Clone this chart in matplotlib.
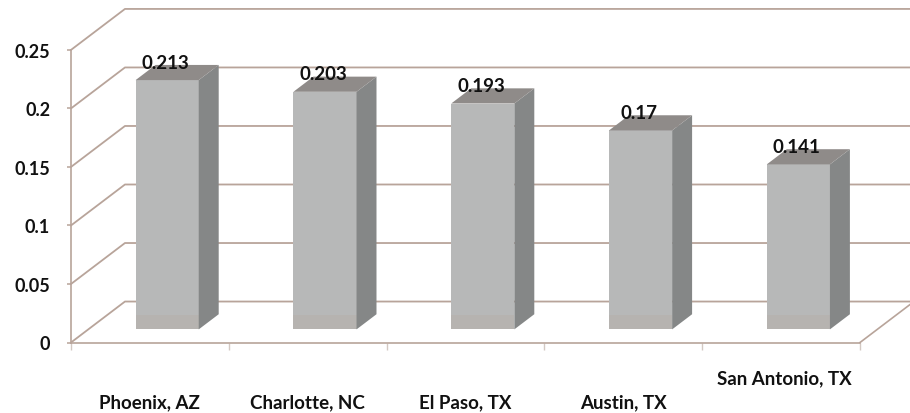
#!/usr/bin/env python
import matplotlib
matplotlib.use("Agg")
import matplotlib.pyplot as plt

plt.rcParams["font.family"] = ["Lato", "DejaVu Sans"]

cities = ["Phoenix, AZ", "Charlotte, NC", "El Paso, TX", "Austin, TX", "San Antonio, TX"]
values = [0.213, 0.203, 0.193, 0.17, 0.141]
value_labels = ["0.213", "0.203", "0.193", "0.17", "0.141"]
y_ticks = [0, 0.05, 0.1, 0.15, 0.2, 0.25]
y_tick_labels = ["0", "0.05", "0.1", "0.15", "0.2", "0.25"]

# fake 3d: depth shifts a point right and up
DX = 0.342
DY = 0.035
BAR_W = 0.4
D_FRONT = 0.32
D_BACK = 0.69
LINE = "#b8a49a"


def shift(x, y, d):
    return x + d * DX, y + d * DY


fig = plt.figure(figsize=(9.1, 4.14), dpi=100)
ax = fig.add_axes([71 / 910, 70.5 / 414, 789 / 910, 292.6 / 414])
ax.set_xlim(0, 5)
ax.set_ylim(0, 0.25)

for s in ["top", "right"]:
    ax.spines[s].set_visible(False)
for s in ["left", "bottom"]:
    ax.spines[s].set_color(LINE)
    ax.spines[s].set_linewidth(1.2)

ax.set_yticks(y_ticks)
ax.set_yticklabels(y_tick_labels, fontsize=13, fontweight="bold", color="#111111")
ax.tick_params(axis="y", length=3, width=1.1, color=LINE, pad=12)
ax.set_xticks(range(6))
ax.set_xticklabels([])
ax.tick_params(axis="x", length=5, width=1, color="#d3c9c3", direction="out")

# gridlines: side wall diagonal plus back wall line
for t in y_ticks:
    x0, y0 = shift(0, t, 1)
    ax.plot([0, x0, 5.4], [t, y0, y0], color=LINE, lw=1.3, clip_on=False, zorder=1)

# right edge of the floor
x1, y1 = shift(5, 0, 1)
ax.plot([5, x1], [0, y1], color=LINE, lw=1.2, clip_on=False, zorder=1)

for i, v in enumerate(values):
    left = i + 0.5 - BAR_W / 2
    right = left + BAR_W
    cx, base = shift(i + 0.5, 0, D_FRONT)

    # front face, with the warmer strip along the floor
    ax.bar(cx, v, BAR_W, bottom=base, color="#b7b8b8", zorder=3)
    ax.bar(cx, 0.0125, BAR_W, bottom=base, color="#b6b3b0", zorder=3)

    # side and top faces
    side = [shift(right, 0, D_FRONT), shift(right, 0, D_BACK),
            shift(right, v, D_BACK), shift(right, v, D_FRONT)]
    ax.fill(*zip(*side), color="#858787", lw=0, zorder=3, clip_on=False)
    lid = [shift(left, v, D_FRONT), shift(right, v, D_FRONT),
           shift(right, v, D_BACK), shift(left, v, D_BACK)]
    ax.fill(*zip(*lid), color="#8f8b89", lw=0, zorder=3, clip_on=False)

    ax.text(cx - 0.01, v + 0.0265, value_labels[i], ha="center", va="center",
            fontsize=13.5, fontweight="bold", color="#111111", zorder=4)

# category labels sit below the axis, the last one staggered upward
label_x = [0.5, 1.5, 2.5, 3.5, 4.52]
label_y = [-0.0505, -0.0505, -0.0505, -0.0505, -0.030]
for c, lx, ly in zip(cities, label_x, label_y):
    ax.text(lx, ly, c, ha="center", va="center", fontsize=13.5, fontweight="bold",
            color="#111111", clip_on=False)

fig.savefig("out.png", dpi=100)
